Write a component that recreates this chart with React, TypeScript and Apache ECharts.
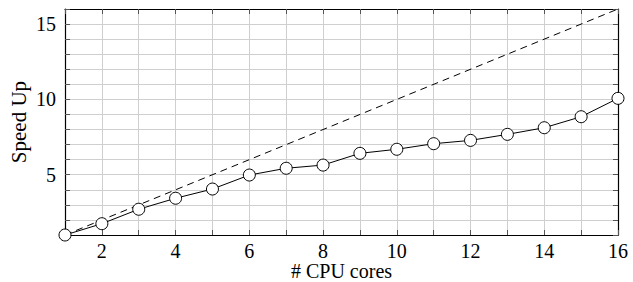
import React, { useEffect, useRef } from "react";
import * as echarts from "echarts";

const cores = [1, 2, 3, 4, 5, 6, 7, 8, 9, 10, 11, 12, 13, 14, 15, 16];
const speedUp = [1, 1.75, 2.71, 3.44, 4.05, 4.98, 5.43, 5.64, 6.42, 6.69, 7.06, 7.28, 7.68, 8.12, 8.85, 10.07];
const ideal = [1, 16];
const xLabels = [2, 4, 6, 8, 10, 12, 14, 16];
const yLabels = [5, 10, 15];

const FONT = "Liberation Serif";

export default function App() {
  const ref = useRef<HTMLDivElement>(null);
  useEffect(() => {
    const chart = echarts.init(ref.current!, null, { renderer: "svg" });
    const tickStyle = { show: true, inside: true, length: 5, lineStyle: { color: "#555", width: 1 } };
    chart.setOption({
      animation: false,
      backgroundColor: "#fff",
      textStyle: { fontFamily: FONT },
      grid: { left: 65, right: 15, top: 9, bottom: 47, outerBoundsMode: "none", containLabel: false },
      xAxis: [
        {
          type: "value",
          min: 1,
          max: 16,
          interval: 1,
          position: "bottom",
          name: "# CPU cores",
          nameLocation: "middle",
          nameGap: 26,
          nameMoveOverlap: false,
          nameTextStyle: { fontFamily: FONT, fontSize: 20, lineHeight: 20, color: "#000" },
          axisLine: { show: true, onZero: false, lineStyle: { color: "#000", width: 1.2 } },
          axisTick: tickStyle,
          axisLabel: {
            fontFamily: FONT,
            fontSize: 20,
            lineHeight: 20,
            color: "#000",
            margin: 6,
            showMinLabel: true,
            formatter: (v: number) => (xLabels.includes(v) ? String(v) : ""),
          },
          splitLine: { show: true, lineStyle: { color: "#cfcfcf", width: 1 } },
        },
        {
          type: "value",
          min: 1,
          max: 16,
          interval: 1,
          position: "top",
          axisLine: { show: true, onZero: false, lineStyle: { color: "#000", width: 1.2 } },
          axisTick: tickStyle,
          axisLabel: { show: false },
          splitLine: { show: false },
        },
      ],
      yAxis: [
        {
          type: "value",
          min: 1,
          max: 16,
          interval: 1,
          position: "left",
          name: "Speed Up",
          nameLocation: "middle",
          nameGap: 36,
          nameMoveOverlap: false,
          nameTextStyle: { fontFamily: FONT, fontSize: 21, color: "#000" },
          axisLine: { show: true, onZero: false, lineStyle: { color: "#000", width: 1.2 } },
          axisTick: tickStyle,
          axisLabel: {
            fontFamily: FONT,
            fontSize: 20,
            color: "#000",
            margin: 9,
            formatter: (v: number) => (yLabels.includes(v) ? String(v) : ""),
          },
          splitLine: { show: true, lineStyle: { color: "#cfcfcf", width: 1 } },
        },
        {
          type: "value",
          min: 1,
          max: 16,
          interval: 1,
          position: "right",
          axisLine: { show: true, onZero: false, lineStyle: { color: "#000", width: 1.2 } },
          axisTick: tickStyle,
          axisLabel: { show: false },
          splitLine: { show: false },
        },
      ],
      series: [
        {
          type: "line",
          data: ideal.map((v) => [v, v]),
          symbol: "none",
          lineStyle: { color: "#000", width: 1, type: [7, 5] },
          silent: true,
        },
        {
          type: "line",
          data: cores.map((c, i) => [c, speedUp[i]]),
          symbol: "circle",
          symbolSize: 12,
          itemStyle: { color: "#fff", borderColor: "#000", borderWidth: 1 },
          lineStyle: { color: "#000", width: 1 },
          clip: false,
          z: 3,
        },
      ],
    });
    return () => chart.dispose();
  }, []);
  return <div ref={ref} style={{ position: "fixed", left: 0, top: 0, width: 633, height: 282 }} />;
}
